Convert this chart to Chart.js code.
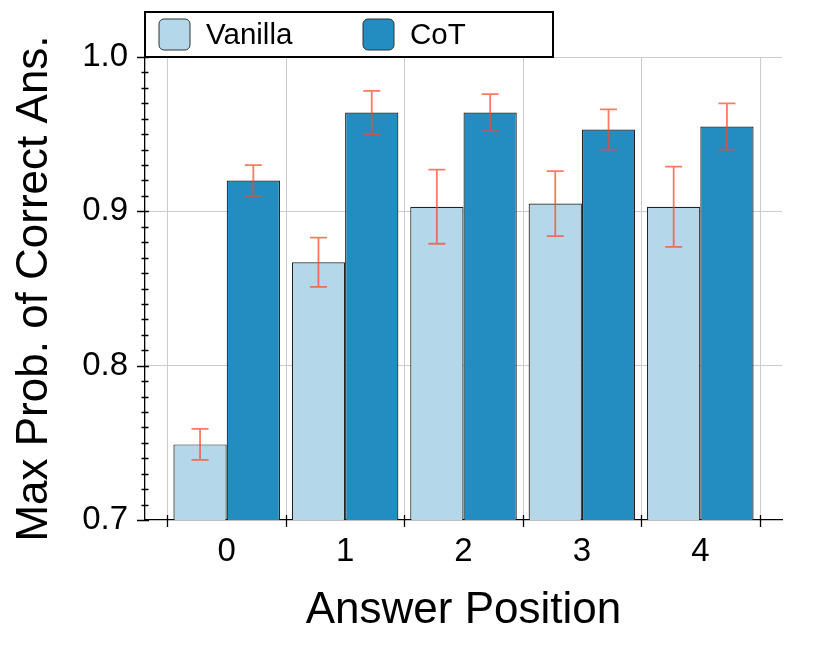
<!DOCTYPE html>
<html><head><meta charset="utf-8">
<script src="https://cdn.jsdelivr.net/npm/chart.js@4.4.1/dist/chart.umd.min.js"></script>
<style>html,body{margin:0;padding:0;background:#fff}#wrap{width:830px;height:652px}</style>
</head><body><div id="wrap"><canvas id="c" width="830" height="652"></canvas></div>
<script>
const categories = [0, 1, 2, 3, 4];
const xTickLabels = ['0', '1', '2', '3', '4'];
const seriesNames = ['Vanilla', 'CoT'];
const vanillaMean = [0.749, 0.867, 0.903, 0.905, 0.903];
const vanillaLow  = [0.739, 0.851, 0.879, 0.884, 0.877];
const vanillaHigh = [0.759, 0.883, 0.927, 0.926, 0.929];
const cotMean = [0.920, 0.964, 0.964, 0.953, 0.955];
const cotLow  = [0.910, 0.950, 0.952, 0.940, 0.940];
const cotHigh = [0.930, 0.978, 0.976, 0.966, 0.970];
const yTickValues = [0.7, 0.8, 0.9, 1.0];
const yMinorStep = 0.01;
const xTitle = 'Answer Position';
const yTitle = 'Max Prob. of Correct Ans.';

const FONT = "'Liberation Sans', Arial, Helvetica, sans-serif";
const colors = ['#b4d7e9', '#238cc0'];
const errLow = [vanillaLow, cotLow];
const errHigh = [vanillaHigh, cotHigh];
const GRID = '#cccccc';

const xGridValues = categories.map(c => c - 0.5).concat([categories[categories.length - 1] + 0.5]);

const vGrid = {
  id: 'vGrid',
  beforeDatasetsDraw(chart) {
    const ctx = chart.ctx, xs = chart.scales.x, area = chart.chartArea;
    ctx.save();
    ctx.strokeStyle = GRID;
    ctx.lineWidth = 1;
    ctx.beginPath();
    xGridValues.forEach(v => {
      const x = Math.round(xs.getPixelForValue(v)) + 0.5;
      ctx.moveTo(x, area.top); ctx.lineTo(x, area.bottom);
    });
    ctx.stroke();
    ctx.restore();
  }
};

const errorBars = {
  id: 'errorBars',
  afterDatasetsDraw(chart) {
    const ctx = chart.ctx, ys = chart.scales.y;
    ctx.save();
    ctx.strokeStyle = 'rgba(255,69,40,0.72)';
    ctx.lineWidth = 1.8;
    chart.data.datasets.forEach((ds, d) => {
      const meta = chart.getDatasetMeta(d);
      meta.data.forEach((bar, j) => {
        const x = bar.x;
        const y1 = ys.getPixelForValue(errLow[d][j]);
        const y2 = ys.getPixelForValue(errHigh[d][j]);
        const cw = 8.5;
        ctx.beginPath();
        ctx.moveTo(x, y1); ctx.lineTo(x, y2);
        ctx.moveTo(x - cw, y1); ctx.lineTo(x + cw, y1);
        ctx.moveTo(x - cw, y2); ctx.lineTo(x + cw, y2);
        ctx.stroke();
      });
    });
    ctx.restore();
  }
};

const axisTicks = {
  id: 'axisTicks',
  afterDraw(chart) {
    const ctx = chart.ctx, ys = chart.scales.y, xs = chart.scales.x;
    const area = chart.chartArea;
    ctx.save();
    ctx.strokeStyle = '#000';
    ctx.lineWidth = 1.3;
    ctx.beginPath();
    const n = Math.round((ys.max - ys.min) / yMinorStep);
    for (let k = 0; k <= n; k++) {
      const v = ys.min + k * yMinorStep;
      const y = Math.round(ys.getPixelForValue(v)) + 0.5;
      const major = yTickValues.some(t => Math.abs(t - v) < 1e-6);
      ctx.moveTo(area.left - (major ? 8 : 3.5), y);
      ctx.lineTo(area.left + (major ? 4 : 3.5), y);
    }
    xGridValues.forEach(v => {
      const x = Math.round(xs.getPixelForValue(v)) + 0.5;
      ctx.moveTo(x, area.bottom - 5);
      ctx.lineTo(x, area.bottom + 7);
    });
    ctx.stroke();

    // legend
    const lx = area.left, ly = 12, lw = 408, lh = 45;
    ctx.fillStyle = '#fff';
    ctx.fillRect(lx, ly, lw, lh);
    ctx.lineWidth = 2;
    ctx.strokeStyle = '#000';
    ctx.strokeRect(lx, ly, lw, lh);
    ctx.font = '29.5px ' + FONT;
    ctx.textBaseline = 'middle';
    ctx.textAlign = 'left';
    const starts = [lx + 14, lx + 218];
    chart.data.datasets.forEach((ds, i) => {
      const sx = starts[i], sy = ly + 7, s = 31;
      ctx.beginPath();
      ctx.roundRect(sx, sy, s, s, 5);
      ctx.fillStyle = ds.backgroundColor;
      ctx.fill();
      ctx.lineWidth = 1;
      ctx.strokeStyle = '#333';
      ctx.stroke();
      ctx.fillStyle = '#000';
      ctx.fillText(ds.label, sx + s + 16, ly + lh / 2 + 1);
    });
    ctx.restore();
  }
};

new Chart(document.getElementById('c'), {
  type: 'bar',
  data: {
    datasets: [
      { label: seriesNames[0], data: categories.map((c, i) => ({ x: c, y: vanillaMean[i] })),
        backgroundColor: colors[0], borderColor: '#222', borderWidth: 1.2 },
      { label: seriesNames[1], data: categories.map((c, i) => ({ x: c, y: cotMean[i] })),
        backgroundColor: colors[1], borderColor: '#222', borderWidth: 1.2 }
    ]
  },
  plugins: [vGrid, errorBars, axisTicks],
  options: {
    responsive: false,
    animation: false,
    devicePixelRatio: 1,
    layout: { padding: { top: 57, right: 48, bottom: 0, left: 0 } },
    categoryPercentage: 0.9,
    barPercentage: 1.0,
    plugins: { legend: { display: false }, tooltip: { enabled: false } },
    scales: {
      x: {
        type: 'linear', min: -0.69, max: 4.69, offset: false,
        afterBuildTicks(scale) { scale.ticks = categories.map(v => ({ value: v })); },
        afterFit(scale) { scale.height = 132; },
        ticks: {
          autoSkip: false, maxRotation: 0, minRotation: 0, padding: 12,
          color: '#000', font: { family: FONT, size: 33 },
          callback(v) { return xTickLabels[categories.indexOf(Math.round(v))]; }
        },
        grid: { offset: false, drawTicks: false, display: true, color: 'rgba(0,0,0,0)' },
        border: { display: true, color: '#000', width: 1.3 },
        title: { display: true, text: xTitle, color: '#000', font: { family: FONT, size: 44 }, padding: { top: 0, bottom: 15 } }
      },
      y: {
        type: 'linear', min: 0.7, max: 1.0,
        afterBuildTicks(scale) { scale.ticks = yTickValues.map(v => ({ value: v })); },
        afterFit(scale) { scale.width = 145; },
        ticks: {
          padding: 17, color: '#000', font: { family: FONT, size: 33 },
          callback(v) { return v.toFixed(1); }
        },
        grid: {
          drawTicks: false, lineWidth: 1,
          color(ctx) { return ctx.tick && ctx.tick.value > 0.75 ? GRID : 'rgba(0,0,0,0)'; }
        },
        border: { display: true, color: '#000', width: 1.3 },
        title: { display: true, text: yTitle, color: '#000', font: { family: FONT, size: 44 }, padding: { top: 8, bottom: 0 } }
      }
    }
  }
});
</script></body></html>
